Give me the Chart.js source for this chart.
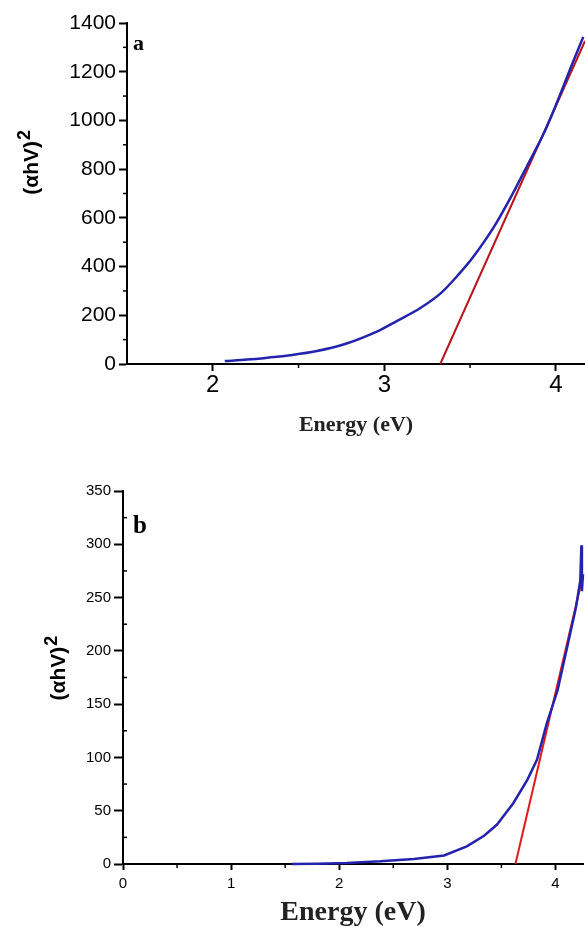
<!DOCTYPE html>
<html>
<head>
<meta charset="utf-8">
<script src="https://cdn.jsdelivr.net/npm/chart.js@4.4.0/dist/chart.umd.min.js"></script>
<style>
  body { margin: 0; background: #fff; width: 585px; height: 930px; position: relative; overflow: hidden; }
  .panel { position: absolute; left: 0; width: 585px; }
  #wrapA { top: 0; height: 440px; }
  #wrapB { top: 470px; height: 460px; }
</style>
</head>
<body>
<div class="panel" id="wrapA"><canvas id="chartA" width="585" height="440"></canvas></div>
<div class="panel" id="wrapB"><canvas id="chartB" width="585" height="460"></canvas></div>
<script>
// ---- panel a : (alpha h v)^2 vs photon energy ----
const energyA = [2.07, 2.2, 2.32, 2.45, 2.6, 2.78, 2.96, 3.07, 3.21, 3.33, 3.44, 3.52, 3.64, 3.75, 3.83, 3.93, 4.02, 4.10, 4.16];
const alphaA  = [12, 18, 26, 36, 52, 84, 134, 175, 230, 291, 373, 441, 564, 701, 810, 947, 1097, 1240, 1343];
const fitEnergyA = [3.326, 4.17];
const fitAlphaA  = [0, 1326];
const xTicksA = [2, 3, 4];
const xMinorA = [2.5, 3.5];
const yTicksA = [0, 200, 400, 600, 800, 1000, 1200, 1400];
const yMinorA = [100, 300, 500, 700, 900, 1100, 1300];

// ---- panel b ----
const energyB = [1.56, 1.8, 2.07, 2.38, 2.69, 2.97, 3.18, 3.34, 3.46, 3.61, 3.74, 3.83, 3.92, 4.02, 4.11, 4.19, 4.23, 4.24, 4.245, 4.255];
const alphaB  = [0, 0.3, 1, 2.5, 4.7, 8, 16.5, 26.5, 37, 57, 79, 98, 132, 163, 204, 241, 266, 299, 256, 272];
const fitEnergyB = [3.63, 4.255];
const fitAlphaB  = [0, 271];
const xTicksB = [0, 1, 2, 3, 4];
const xMinorB = [0.5, 1.5, 2.5, 3.5];
const yTicksB = [0, 50, 100, 150, 200, 250, 300, 350];
const yMinorB = [25, 75, 125, 175, 225, 275, 325];

const SANS = '"Liberation Sans", Arial, sans-serif';
const SERIF = '"Liberation Serif", "Times New Roman", serif';

const toXY = (xs, ys) => xs.map((x, i) => ({ x: x, y: ys[i] }));

// minor tick marks on both axes
const minorTicks = {
  id: 'minorTicks',
  afterDraw(chart, args, o) {
    const { ctx, scales: { x, y } } = chart;
    ctx.save();
    ctx.strokeStyle = '#000';
    ctx.lineWidth = 1.5;
    o.x.forEach(v => {
      const px = x.getPixelForValue(v);
      ctx.beginPath(); ctx.moveTo(px, y.bottom); ctx.lineTo(px, y.bottom + o.len); ctx.stroke();
    });
    o.y.forEach(v => {
      const py = y.getPixelForValue(v);
      ctx.beginPath(); ctx.moveTo(x.left, py); ctx.lineTo(x.left + o.yDir * o.len, py); ctx.stroke();
    });
    ctx.restore();
  }
};

// panel letter and rotated y title with superscript
const labels = {
  id: 'labels',
  afterDraw(chart, args, o) {
    const { ctx, chartArea: ca } = chart;
    ctx.save();
    ctx.fillStyle = '#000';
    ctx.font = o.letterFont;
    ctx.textBaseline = 'alphabetic';
    ctx.fillText(o.letter, ca.left + o.letterDx, ca.top + o.letterDy);

    ctx.translate(o.titleX, ca.top + ca.height * o.titleFrac);
    ctx.rotate(-Math.PI / 2);
    ctx.textBaseline = 'middle';
    ctx.font = o.titleFont;
    const w1 = ctx.measureText(o.title).width;
    ctx.font = o.supFont;
    const w2 = ctx.measureText(o.sup).width;
    const start = -(w1 + w2) / 2;
    ctx.font = o.titleFont;
    ctx.fillText(o.title, start, 0);
    ctx.font = o.supFont;
    ctx.fillText(o.sup, start + w1 + 1, -o.supRaise);
    ctx.restore();
  }
};

function makePanel(id, p) {
  return new Chart(document.getElementById(id), {
    type: 'line',
    data: {
      datasets: [
        { data: toXY(p.ex, p.ey), borderColor: '#2323ad', borderWidth: 2.5, pointRadius: 0, tension: p.tension, clip: p.clip },
        { data: toXY(p.fx, p.fy), borderColor: p.red, borderWidth: 2, pointRadius: 0, tension: 0, clip: p.clip }
      ]
    },
    options: {
      responsive: false,
      devicePixelRatio: 1,
      animation: false,
      events: [],
      layout: { padding: { top: p.top, right: p.right, left: 0, bottom: 0 } },
      plugins: {
        legend: { display: false },
        tooltip: { enabled: false },
        minorTicks: { x: p.xMinor, y: p.yMinor, len: 4, yDir: p.yDir },
        labels: p.labels
      },
      scales: {
        x: {
          type: 'linear', min: p.xMin, max: p.xMax,
          afterBuildTicks: s => { s.ticks = p.xTicks.map(v => ({ value: v })); },
          afterFit: s => { s.height = p.xHeight; },
          ticks: { color: '#000', font: { family: SANS, size: p.xFont }, padding: p.xPad, maxRotation: 0, autoSkip: false, callback: v => String(v) },
          grid: { drawOnChartArea: false, tickLength: p.xTickLen, tickWidth: 2, tickColor: '#000' },
          border: { color: '#000', width: 2 },
          title: { display: true, text: 'Energy (eV)', color: '#222', font: { family: SERIF, size: p.titleSize, weight: 'bold', lineHeight: 1.2 }, padding: { top: 0, bottom: p.titlePad } }
        },
        y: {
          type: 'linear', min: p.yMin, max: p.yMax,
          afterBuildTicks: s => { s.ticks = p.yTicks.map(v => ({ value: v })); },
          afterFit: s => { s.width = p.yWidth; },
          ticks: { color: '#000', font: { family: SANS, size: p.yFont }, padding: p.yPad, autoSkip: false, callback: v => String(v) },
          grid: { drawOnChartArea: false, tickLength: p.yTickLen, tickWidth: 2, tickColor: '#000' },
          border: { color: '#000', width: 2 }
        }
      }
    },
    plugins: [minorTicks, labels]
  });
}

makePanel('chartA', {
  ex: energyA, ey: alphaA, fx: fitEnergyA, fy: fitAlphaA, red: '#b8161e', tension: 0.3, clip: 2,
  xMin: 1.5, xMax: 4.17, yMin: 0, yMax: 1400,
  xTicks: xTicksA, yTicks: yTicksA, xMinor: xMinorA, yMinor: yMinorA, yDir: -1,
  top: 23, right: 0, xHeight: 76, yWidth: 127,
  xFont: 24, xPad: 0, xTickLen: 7, yFont: 21, yPad: 3, yTickLen: 8,
  titleSize: 22, titlePad: 1,
  labels: {
    letter: 'a', letterFont: 'bold 22px ' + SERIF, letterDx: 6, letterDy: 27,
    title: '(\u03B1hV)', sup: '2', titleFont: 'bold 21px ' + SANS, supFont: 'bold 18px ' + SANS, supRaise: 7,
    titleX: 32, titleFrac: 0.41
  }
});

makePanel('chartB', {
  ex: energyB, ey: alphaB, fx: fitEnergyB, fy: fitAlphaB, red: '#e01a1a', tension: 0, clip: false,
  xMin: 0, xMax: 4.255, yMin: 0, yMax: 350,
  xTicks: xTicksB, yTicks: yTicksB, xMinor: xMinorB, yMinor: yMinorB, yDir: 1,
  top: 21, right: 2, xHeight: 66, yWidth: 123,
  xFont: 15, xPad: 5, xTickLen: 6, yFont: 15, yPad: 3, yTickLen: 9,
  titleSize: 28, titlePad: 0,
  labels: {
    letter: 'b', letterFont: 'bold 25px ' + SERIF, letterDx: 10, letterDy: 42,
    title: '(\u03B1hV)', sup: '2', titleFont: 'bold 21px ' + SANS, supFont: 'bold 18px ' + SANS, supRaise: 7,
    titleX: 59, titleFrac: 0.476
  }
});
</script>
</body>
</html>
